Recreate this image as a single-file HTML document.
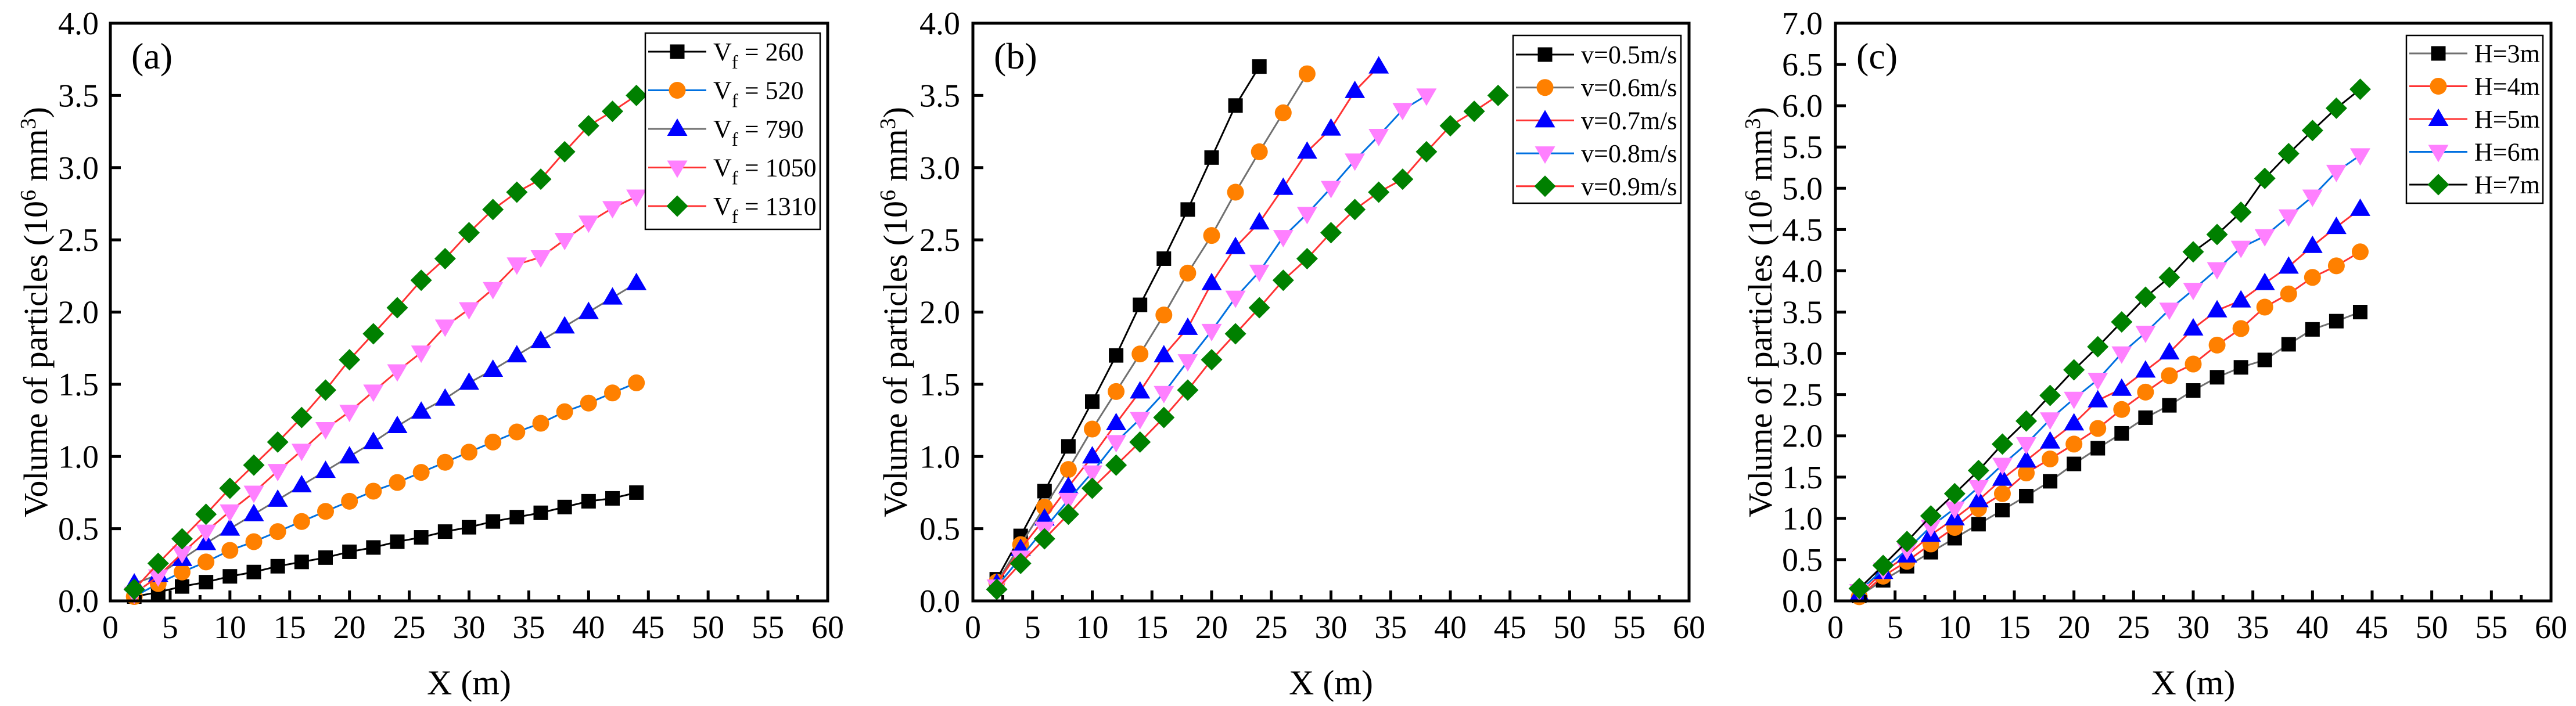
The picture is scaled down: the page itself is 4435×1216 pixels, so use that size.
<!DOCTYPE html>
<html><head><meta charset="utf-8">
<style>
html,body{margin:0;padding:0;background:#fff;}
svg{display:block;}
svg text{font-family:"Liberation Serif","Times New Roman","DejaVu Serif",serif;}
</style></head>
<body>
<svg id="fig" width="4435" height="1216" viewBox="0 0 4435 1216" xmlns="http://www.w3.org/2000/svg" font-family="Liberation Serif, Times New Roman, serif"></svg>
<script>
const xsA = [2,4,6,8,10,12,14,16,18,20,22,24,26,28,30,32,34,36,38,40,42,44];
// Panel (a)
const a260 = [0.03,0.06,0.1,0.13,0.17,0.2,0.24,0.27,0.3,0.34,0.37,0.41,0.44,0.48,0.51,0.55,0.58,0.61,0.65,0.69,0.71,0.75];
const a520 = [0.03,0.12,0.2,0.27,0.35,0.41,0.48,0.55,0.62,0.69,0.76,0.82,0.89,0.96,1.03,1.1,1.17,1.23,1.31,1.37,1.44,1.51];
const a790 = [0.12,0.18,0.29,0.4,0.5,0.6,0.7,0.8,0.9,1.0,1.1,1.21,1.31,1.4,1.51,1.6,1.7,1.8,1.9,2.0,2.1,2.2];
const a1050 = [0.05,0.17,0.33,0.48,0.62,0.75,0.9,1.04,1.19,1.31,1.45,1.59,1.72,1.9,2.02,2.16,2.33,2.38,2.5,2.62,2.72,2.8];
const a1310 = [0.08,0.26,0.43,0.6,0.78,0.94,1.1,1.27,1.46,1.67,1.85,2.03,2.22,2.37,2.55,2.71,2.83,2.92,3.11,3.29,3.39,3.5];
// Panel (b)
const b05 = [0.15,0.45,0.76,1.07,1.38,1.7,2.05,2.37,2.71,3.07,3.43,3.7];
const b06 = [0.13,0.39,0.65,0.91,1.19,1.45,1.71,1.98,2.27,2.53,2.83,3.11,3.38,3.65];
const b07 = [0.12,0.36,0.57,0.79,1.0,1.23,1.45,1.7,1.89,2.2,2.45,2.62,2.86,3.11,3.27,3.53,3.7];
const b08 = [0.1,0.3,0.5,0.7,0.89,1.1,1.26,1.44,1.66,1.87,2.1,2.28,2.52,2.68,2.86,3.05,3.22,3.4,3.5];
const b09 = [0.08,0.26,0.43,0.6,0.78,0.94,1.1,1.27,1.46,1.67,1.85,2.03,2.22,2.37,2.55,2.71,2.83,2.92,3.11,3.29,3.39,3.5];
// Panel (c)
const c3 = [0.06,0.25,0.42,0.59,0.76,0.93,1.1,1.27,1.45,1.66,1.85,2.03,2.22,2.37,2.55,2.71,2.83,2.92,3.11,3.29,3.39,3.5];
const c4 = [0.05,0.3,0.48,0.69,0.89,1.12,1.3,1.55,1.72,1.9,2.09,2.32,2.53,2.73,2.87,3.1,3.3,3.56,3.72,3.92,4.06,4.23];
const c5 = [0.08,0.35,0.55,0.8,1.0,1.22,1.48,1.7,1.93,2.15,2.43,2.57,2.79,3.01,3.3,3.52,3.64,3.85,4.05,4.3,4.53,4.75];
const c6 = [0.12,0.38,0.62,0.9,1.12,1.38,1.65,1.9,2.2,2.45,2.68,3.0,3.25,3.53,3.77,4.02,4.28,4.42,4.66,4.9,5.2,5.4];
const c7 = [0.15,0.43,0.72,1.03,1.3,1.58,1.9,2.18,2.49,2.8,3.08,3.38,3.68,3.92,4.23,4.44,4.71,5.12,5.42,5.7,5.97,6.2];
const xTicks = [0,5,10,15,20,25,30,35,40,45,50,55,60];
const yTicksAB = ["0.0","0.5","1.0","1.5","2.0","2.5","3.0","3.5","4.0"];
const yTicksC = ["0.0","0.5","1.0","1.5","2.0","2.5","3.0","3.5","4.0","4.5","5.0","5.5","6.0","6.5","7.0"];
const labelsA = ["260","520","790","1050","1310"];
const labelsB = ["v=0.5m/s","v=0.6m/s","v=0.7m/s","v=0.8m/s","v=0.9m/s"];
const labelsC = ["H=3m","H=4m","H=5m","H=6m","H=7m"];

const NS="http://www.w3.org/2000/svg";
const svg=document.getElementById('fig');
const FF='"Liberation Serif","Times New Roman",serif';
function mk(tag,attrs,parent){const e=document.createElementNS(NS,tag);for(const k in attrs)e.setAttribute(k,attrs[k]);if(tag==='text')e.style.fontFamily=FF;(parent||svg).appendChild(e);return e;}
const C={orange:"#FF8000",blue:"#0000FF",pink:"#FF80FF",green:"#008000",red:"#FF3333",lblue:"#0070E0",gray:"#707070",black:"#000"};
const markerTypes=["square","circle","up","down","diamond"];
const markerFill=[C.black,C.orange,C.blue,C.pink,C.green];

function marker(type,cx,cy,fill,g){
  let e;
  if(type==="square") e=mk('rect',{x:cx-12.5,y:cy-12.5,width:25,height:25,fill:fill},g);
  else if(type==="circle") e=mk('circle',{cx:cx,cy:cy,r:14.5,fill:fill},g);
  else if(type==="up") e=mk('polygon',{points:`${cx},${cy-18} ${cx+17.5},${cy+12} ${cx-17.5},${cy+12}`,fill:fill},g);
  else if(type==="down") e=mk('polygon',{points:`${cx},${cy+18} ${cx+17.5},${cy-12} ${cx-17.5},${cy-12}`,fill:fill},g);
  else e=mk('polygon',{points:`${cx},${cy-18.5} ${cx+18.5},${cy} ${cx},${cy+18.5} ${cx-18.5},${cy}`,fill:fill},g);
  return e;
}

function panel(p){
  const g=mk('g',{});
  
  
  const L=p.left,R=p.right,T=40,B=1035;
  const sx=v=>L+(v-0)/(60-0)*(R-L);
  const sy=v=>B-v/p.ymax*(B-T);
  p.series.forEach((s,i)=>{
    const sg=mk('g',{},g);
    
    
    const pts=s.map((v,j)=>sx(xsA[j])+','+sy(v)).join(' ');
    const pl=mk('polyline',{points:pts,fill:'none',stroke:p.lineCol[i],'stroke-width':3},sg);
    
    
    s.forEach((v,j)=>{
      const m=marker(markerTypes[i],sx(xsA[j]),sy(v),markerFill[i],sg);
      
      
    });
  });
  const fr=mk('rect',{x:L,y:T,width:R-L,height:B-T,fill:'none',stroke:'#000','stroke-width':5},g);
  
  
  xTicks.forEach(t=>{
    const x=sx(t);
    mk('line',{x1:x,y1:B,x2:x,y2:B-18,stroke:'#000','stroke-width':5},g);
    if(t<60){const xm=sx(t+2.5);mk('line',{x1:xm,y1:B,x2:xm,y2:B-10,stroke:'#000','stroke-width':5},g);}
    const tx=mk('text',{x:x,y:1099,'font-size':56,'text-anchor':'middle'},g);
    tx.textContent=t;
    
    
  });
  p.yTicks.forEach(t=>{
    const y=sy(parseFloat(t));
    mk('line',{x1:L,y1:y,x2:L+18,y2:y,stroke:'#000','stroke-width':5},g);
    const tx=mk('text',{x:p.tickRight,y:y+19,'font-size':56,'text-anchor':'end'},g);
    tx.textContent=t;
    
    
  });
  const xt=mk('text',{x:(L+R)/2,y:1196,'font-size':60,'text-anchor':'middle'},g);
  xt.textContent='X (m)';
  
  
  const yt=mk('text',{x:0,y:0,'font-size':58,'text-anchor':'middle',transform:`translate(${p.yTitleX+19},${(T+B)/2}) rotate(-90)`},g);
  yt.innerHTML='Volume of particles (10<tspan dy="-20" font-size="38">6</tspan><tspan dy="20"> mm</tspan><tspan dy="-20" font-size="38">3</tspan><tspan dy="20">)</tspan>';
  
  
  const pl=mk('text',{x:L+36,y:118,'font-size':64},g);
  pl.textContent=p.tag;
  
  
  const lg=mk('g',{},g);
  
  
  const lb=p.legend;
  mk('rect',{x:lb.l,y:lb.t,width:lb.r-lb.l,height:lb.b-lb.t,fill:'#fff',stroke:'#000','stroke-width':2.5},lg);
  p.labels.forEach((lab,i)=>{
    const ey=lb.y0+i*lb.dy;
    const eg=mk('g',{},lg);
    
    
    mk('line',{x1:lb.mx-50,y1:ey,x2:lb.mx+50,y2:ey,stroke:p.lineCol[i],'stroke-width':3},eg);
    marker(markerTypes[i],lb.mx,ey,markerFill[i],eg);
    const tx=mk('text',{x:lb.tx,y:ey+15,'font-size':44},eg);
    if(p.sub){tx.innerHTML='V<tspan dy="14" font-size="33">f</tspan><tspan dy="-14"> = '+lab+'</tspan>';}
    else tx.textContent=lab;
  });
}

panel({name:'panel-a',tag:'(a)',left:190,right:1425,ymax:4,yTicks:yTicksAB,tickRight:170,yTitleX:62,
  series:[a260,a520,a790,a1050,a1310],keys:['vf260','vf520','vf790','vf1050','vf1310'],
  lineCol:[C.black,C.lblue,C.gray,C.red,C.red],labels:labelsA,sub:true,
  legend:{l:1111,t:57,r:1412,b:395,y0:89,dy:66.5,mx:1166,tx:1228}});
panel({name:'panel-b',tag:'(b)',left:1675,right:2908,ymax:4,yTicks:yTicksAB,tickRight:1653,yTitleX:1542,
  series:[b05,b06,b07,b08,b09],keys:['v05','v06','v07','v08','v09'],
  lineCol:[C.black,C.gray,C.red,C.lblue,C.red],labels:labelsB,sub:false,
  legend:{l:2605,t:61,r:2894,b:350,y0:94,dy:56.7,mx:2660,tx:2722}});
panel({name:'panel-c',tag:'(c)',left:3160,right:4392,ymax:7,yTicks:yTicksC,tickRight:3138,yTitleX:3031,
  series:[c3,c4,c5,c6,c7],keys:['h3','h4','h5','h6','h7'],
  lineCol:[C.gray,C.red,C.red,C.lblue,C.black],labels:labelsC,sub:false,
  legend:{l:4143,t:61,r:4378,b:350,y0:92,dy:56.5,mx:4198,tx:4260}});
</script>
</body></html>
